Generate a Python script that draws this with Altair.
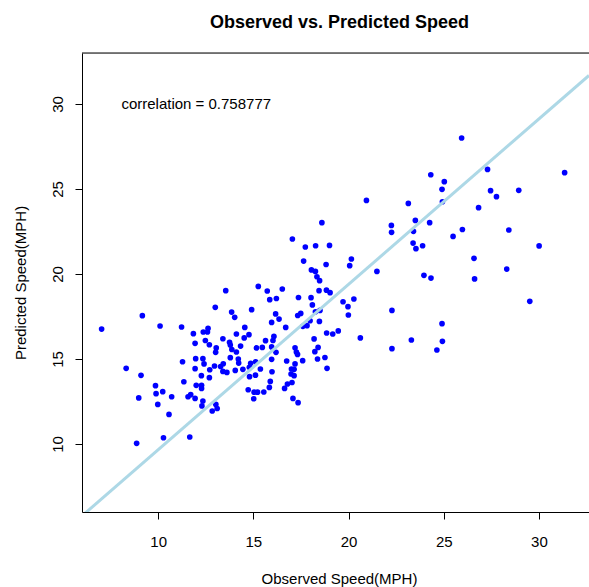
import altair as alt
import pandas as pd

# Observed speed (x) and predicted speed (y)
obs = [9.17, 7.03, 10.10, 11.23, 11.28, 8.32, 9.10, 9.86, 11.35, 9.89,
       10.24, 8.98, 10.71, 9.98, 10.57, 10.28, 8.87, 13.55, 15.26, 13.00,
       13.86, 14.02, 14.91, 11.85, 12.37, 12.59, 12.62, 14.55, 14.11, 14.77,
       14.52, 11.94, 12.48, 12.69, 13.40, 13.75, 13.79, 14.33, 13.05, 13.87,
       15.16, 15.73, 16.52, 18.48, 17.37, 18.03, 15.86, 16.21, 18.45, 18.84,
       19.03, 19.71, 18.10, 18.26, 18.50, 16.17, 16.35, 17.33, 17.49, 15.96,
       16.70, 17.98, 18.47, 17.60, 17.82, 16.08, 15.64, 16.03, 18.85, 19.17,
       19.46, 18.19, 15.47, 15.96, 17.19, 18.40, 14.11, 13.02, 11.97, 12.35,
       13.79, 14.21, 14.23, 12.41, 12.96, 13.42, 13.28, 14.86, 15.12, 11.94,
       12.71, 13.40, 13.61, 14.05, 14.45, 14.79, 12.27, 12.69, 14.80, 15.11,
       12.00, 12.28, 12.28, 14.73, 15.04, 15.22, 11.57, 11.71, 11.94, 12.35,
       12.30, 15.02, 13.03, 13.10, 12.84, 17.26, 17.32, 18.23, 18.76, 17.59,
       18.37, 16.19, 15.96, 16.75, 17.19, 18.87, 15.37, 17.00, 17.14, 15.98,
       16.98, 17.14, 15.89, 17.03, 16.79, 15.84, 16.64, 15.55, 17.08, 17.35,
       11.66, 20.94, 18.60, 17.05, 17.73, 18.27, 19.00, 17.64, 18.82, 20.15,
       20.06, 18.05, 18.26, 18.34, 25.94, 24.32, 25.03, 24.91, 27.30, 31.35,
       27.46, 27.77, 28.94, 23.14, 24.93, 26.83, 22.25, 22.26, 23.51, 24.26,
       23.41, 25.98, 25.49, 28.42, 23.39, 23.89, 23.54, 30.01, 21.49, 26.59,
       28.31, 23.96, 24.33, 26.62, 20.28, 19.97, 19.99, 22.28, 29.52, 20.62,
       24.91, 22.28, 23.30, 24.93, 24.64]

pred = [17.55, 16.76, 16.94, 16.88, 14.84, 14.45, 14.04, 13.43, 13.66, 12.96,
        13.08, 12.71, 12.78, 12.33, 11.74, 10.37, 10.04, 19.02, 19.27, 18.04,
        17.76, 17.45, 17.90, 16.49, 16.59, 16.59, 16.80, 16.86, 16.47, 16.43,
        16.24, 15.92, 16.09, 15.84, 16.19, 15.98, 15.82, 15.76, 15.65, 15.56,
        15.65, 19.00, 19.12, 19.61, 18.62, 18.61, 18.49, 18.56, 19.02, 19.05,
        18.90, 18.37, 18.18, 17.78, 17.86, 17.65, 17.35, 17.56, 17.68, 17.15,
        16.86, 17.25, 17.21, 16.92, 16.96, 16.33, 16.08, 16.09, 16.53, 16.47,
        16.65, 16.18, 15.68, 15.71, 15.66, 15.68, 15.41, 15.39, 15.02, 15.02,
        15.08, 15.00, 14.76, 14.71, 14.59, 14.72, 14.56, 14.75, 14.84, 14.43,
        14.37, 14.27, 14.21, 14.33, 14.39, 14.51, 14.02, 13.90, 13.96, 14.05,
        13.45, 13.45, 13.27, 13.19, 13.05, 13.05, 12.78, 12.90, 12.68, 12.53,
        12.24, 12.66, 12.33, 12.09, 11.94, 15.41, 15.27, 15.43, 15.09, 14.90,
        15.00, 15.39, 14.98, 14.88, 14.71, 14.45, 14.41, 14.41, 14.39, 14.25,
        14.12, 14.02, 13.68, 13.62, 13.53, 13.33, 13.27, 13.06, 12.68, 12.43,
        10.41, 24.33, 23.02, 22.06, 21.59, 21.66, 21.68, 20.76, 20.56, 20.88,
        20.49, 20.24, 20.15, 19.84, 28.00, 25.84, 25.43, 24.98, 26.15, 25.96,
        24.90, 24.55, 24.92, 24.15, 24.25, 23.90, 22.86, 22.45, 23.15, 23.02,
        22.51, 22.62, 22.21, 22.59, 21.82, 21.66, 21.49, 21.65, 20.15, 20.92,
        20.29, 19.92, 19.76, 19.71, 18.53, 18.08, 17.59, 17.86, 18.39, 16.24,
        17.08, 15.61, 16.12, 16.04, 15.53]

# reference line (light blue)
line_x = [6.0, 32.63]
line_y = [5.77, 31.68]

# annotation
note_x = [12.0]
note_y = [30.0]
note_text = ["correlation = 0.758777"]

tick_values = [10, 15, 20, 25, 30]

W, H = 507, 459
FONT = "Liberation Sans"

pts_df = pd.DataFrame({"obs": obs, "pred": pred})
line_df = pd.DataFrame({"obs": line_x, "pred": line_y})
note_df = pd.DataFrame({"obs": note_x, "pred": note_y, "txt": note_text})
frame_df = pd.DataFrame({"k": [0]})

xs = alt.Scale(domain=[6.0, 32.63], nice=False, zero=False)
ys = alt.Scale(domain=[6.0, 33.0], nice=False, zero=False)

x_axis = alt.Axis(
    values=tick_values, title="Observed Speed(MPH)", grid=False,
    domainColor="black", tickColor="black", tickSize=7,
    labelFont=FONT, labelFontSize=15, labelColor="black",
    labelBaseline="alphabetic", labelPadding=27, labelFlush=False,
    titleFont=FONT, titleFontSize=15, titleFontWeight="normal",
    titleColor="black", titleX=257, titleY=71, titleAlign="center",
    titleBaseline="alphabetic",
)
y_axis = alt.Axis(
    values=tick_values, title="Predicted Speed(MPH)", grid=False,
    domainColor="black", tickColor="black", tickSize=7,
    labelFont=FONT, labelFontSize=15, labelColor="black",
    labelAngle=270, labelAlign="center", labelBaseline="alphabetic",
    labelPadding=13, labelFlush=False,
    titleFont=FONT, titleFontSize=15, titleFontWeight="normal",
    titleColor="black", titleAngle=270, titleX=-57, titleY=229.5,
    titleAlign="center", titleBaseline="alphabetic",
)

points = alt.Chart(pts_df).mark_circle(size=32, color="#0000FF", opacity=1).encode(
    x=alt.X("obs:Q", scale=xs, axis=x_axis),
    y=alt.Y("pred:Q", scale=ys, axis=y_axis),
)

line = alt.Chart(line_df).mark_line(color="#ADD8E6", strokeWidth=3, clip=True).encode(
    x=alt.X("obs:Q", scale=xs),
    y=alt.Y("pred:Q", scale=ys),
)

note = alt.Chart(note_df).mark_text(
    font=FONT, fontSize=15, color="black", align="center", baseline="middle"
).encode(
    x=alt.X("obs:Q", scale=xs),
    y=alt.Y("pred:Q", scale=ys),
    text="txt:N",
)

top_border = alt.Chart(frame_df).mark_rule(color="black", strokeWidth=1).encode(
    x=alt.value(0), x2=alt.value(W), y=alt.value(0)
)

chart = alt.layer(points, line, note, top_border).properties(
    width=W, height=H,
    title=alt.TitleParams(
        "Observed vs. Predicted Speed", font=FONT, fontSize=18,
        fontWeight="bold", color="black", anchor="middle", dx=4,
        offset=7, baseline="alphabetic",
    ),
    padding={"left": 82, "top": 53, "right": 0, "bottom": 75},
    autosize=alt.AutoSizeParams(type="none"),
).configure_view(strokeWidth=0).configure(background="white")

chart.save("out.html", embed_options={"renderer": "svg", "actions": False})
